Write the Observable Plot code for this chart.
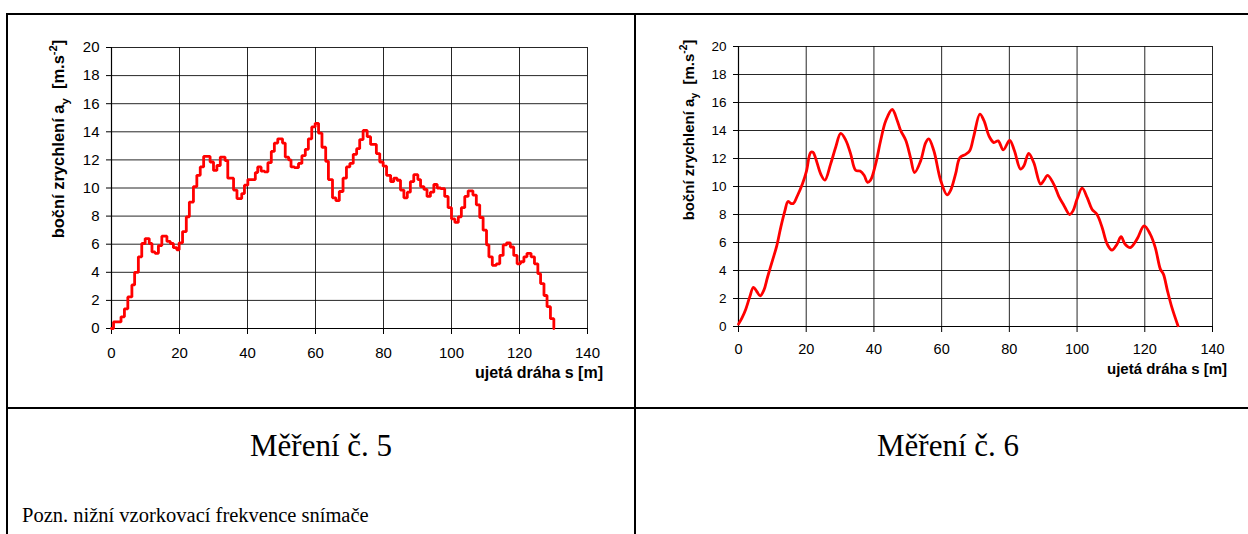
<!DOCTYPE html>
<html><head><meta charset="utf-8">
<script src="https://cdn.jsdelivr.net/npm/d3@7"></script>
<script src="https://cdn.jsdelivr.net/npm/@observablehq/plot@0.6"></script>
<style>
html,body{margin:0;padding:0;background:#fff;width:1248px;height:534px;overflow:hidden;}
#root{position:relative;width:1248px;height:534px;}
.chart{position:absolute;top:0;}
.chart svg{display:block;max-width:none;background:transparent;}
.rule{position:absolute;background:#000;z-index:5;}
.cap{position:absolute;font-family:"Liberation Serif","Times New Roman",serif;color:#000;white-space:nowrap;line-height:1;}
</style></head><body>
<div id="root"></div>
<script>
// Měření č. 5 (step line)
const sStep = [
  0, 0.6, 2.8, 3.8, 4.8, 6.0, 6.8, 7.9, 8.9, 9.9,
  11.1, 11.9, 12.8, 13.8, 14.8, 16.3, 17.3, 18.2, 19.2, 19.9,
  20.9, 22.0, 22.9, 24.1, 25.1, 26.1, 27.1, 29.0, 30.0, 31.0,
  32.0, 33.4, 34.2, 35.9, 36.9, 38.3, 39.1, 40.1, 42.3, 43.0,
  44.0, 45.0, 46.0, 47.0, 47.9, 48.9, 50.3, 51.1, 52.1, 52.8,
  53.8, 55.0, 56.0, 57.0, 57.9, 58.9, 59.9, 60.9, 61.9, 63.0,
  63.8, 65.0, 66.0, 67.0, 68.1, 69.1, 70.1, 71.1, 72.1, 73.0,
  74.0, 75.2, 76.2, 77.9, 78.9, 79.9, 80.9, 82.1, 83.0, 84.0,
  85.0, 86.0, 87.0, 87.9, 88.9, 90.1, 90.9, 91.9, 92.8, 93.8,
  94.8, 95.8, 96.8, 98.0, 99.0, 100.0, 101.0, 102.0, 102.9, 103.9,
  104.9, 106.3, 107.3, 108.3, 109.3, 110.3, 111.0, 112.0, 113.2, 114.2,
  115.2, 116.2, 117.3, 118.3, 119.3, 120.3, 121.3, 122.2, 123.4, 124.4,
  125.4, 126.2, 127.2, 128.1, 129.1, 130.1
];
const aStep = [
  0, 0.47, 0.83, 1.4, 2.25, 3.1, 4.0, 5.1, 6.05, 6.4,
  6.05, 5.45, 5.35, 5.9, 6.57, 6.2, 6.05, 5.75, 5.6, 6.1,
  6.9, 7.95, 9.0, 10.1, 10.9, 11.5, 12.25, 11.85, 11.25, 11.6,
  12.2, 11.95, 10.7, 9.85, 9.25, 9.6, 10.2, 10.6, 11.1, 11.5,
  11.2, 11.15, 11.8, 12.6, 13.2, 13.5, 13.2, 12.2, 12.0, 11.5,
  11.45, 11.75, 12.3, 12.75, 13.5, 14.35, 14.6, 13.9, 12.9, 11.9,
  10.6, 9.3, 9.1, 9.75, 10.7, 11.5, 11.75, 12.4, 12.8, 13.45,
  14.1, 13.65, 13.1, 12.45, 11.85, 11.55, 10.9, 10.45, 10.7, 10.55,
  9.85, 9.3, 9.7, 10.45, 10.95, 10.6, 10.1, 9.9, 9.4, 9.7,
  10.25, 10.0, 9.95, 9.4, 8.6, 7.8, 7.55, 7.95, 8.6, 9.4,
  9.8, 9.5, 8.8, 7.9, 7.0, 5.95, 5.1, 4.5, 4.6, 5.2,
  5.95, 6.1, 5.8, 5.2, 4.6, 4.75, 5.1, 5.35, 5.1, 4.6,
  3.9, 3.2, 2.35, 1.55, 0.7, 0
];
// Měření č. 6 (smooth line)
const sSmooth = [
  0, 1.0, 2.15, 3.3, 4.4, 5.4, 6.4, 7.5, 8.55, 10.0,
  11.3, 12.5, 13.7, 14.6, 15.4, 16.2, 17.4, 18.9, 20.1, 21.3,
  22.0, 22.8, 24.3, 25.5, 27.2, 28.7, 30.2, 31.7, 33.1, 34.6,
  35.9, 37.1, 38.1, 39.0, 40.5, 42.0, 43.5, 45.4, 46.9, 47.9,
  49.4, 50.8, 52.0, 53.8, 55.3, 56.2, 57.7, 59.7, 61.6, 62.6,
  64.1, 65.4, 67.1, 68.3, 69.5, 71.3, 72.5, 74.0, 75.4, 76.7,
  78.2, 80.1, 81.5, 83.3, 84.3, 85.7, 87.2, 89.2, 90.1, 91.3,
  93.1, 94.6, 96.0, 97.8, 98.8, 100.0, 101.5, 103.0, 104.4, 105.9,
  107.4, 108.9, 110.3, 111.8, 113.0, 114.2, 115.7, 117.7, 119.8, 121.6,
  123.1, 124.6, 125.5, 126.7, 128.0, 129.8
];
const aSmooth = [
  0.17, 0.6, 1.24, 2.1, 2.79, 2.5, 2.19, 2.6, 3.5, 4.69,
  5.76, 7.1, 8.26, 8.93, 8.8, 8.79, 9.34, 10.2, 11.12, 12.43,
  12.45, 12.0, 10.88, 10.45, 11.6, 12.8, 13.79, 13.3, 12.35, 11.16,
  11.1, 10.8, 10.3, 10.45, 11.6, 13.3, 14.7, 15.5, 14.7, 14.0,
  13.3, 12.07, 11.0, 11.83, 13.14, 13.4, 12.55, 10.45, 9.4, 9.7,
  10.88, 12.07, 12.3, 12.55, 13.6, 15.17, 14.7, 13.6, 13.14, 13.26,
  12.62, 13.3, 12.55, 11.24, 11.48, 12.36, 11.71, 10.17, 10.4, 10.8,
  10.17, 9.3, 8.7, 8.0, 8.26, 9.1, 9.88, 9.2, 8.38, 8.0,
  7.07, 5.88, 5.45, 5.88, 6.41, 5.88, 5.64, 6.24, 7.19, 6.6,
  5.64, 4.1, 3.74, 2.55, 1.36, 0.05
];
const xTicks = [0, 20, 40, 60, 80, 100, 120, 140];
const yTicks = [0, 2, 4, 6, 8, 10, 12, 14, 16, 18, 20];
const xTitle = "ujetá dráha s [m]";
const yTitleParts = ["boční zrychlení a", "y", "\u00a0\u00a0[m.s", "-2", "]"];
const captions = ["Měření č. 5", "Měření č. 6"];
const noteText = "Pozn. nižní vzorkovací frekvence snímače";

const SANS = '"Liberation Sans", Arial, Helvetica, sans-serif';
const root = document.getElementById("root");

function makeChart(cfg) {
  const data = cfg.s.map((v, i) => ({s: v, a: cfg.a[i]}));
  const svg = Plot.plot({
    width: cfg.width, height: cfg.height,
    marginLeft: cfg.ml, marginRight: cfg.mr, marginTop: cfg.mt, marginBottom: cfg.mb,
    style: {fontFamily: SANS, color: "#000", background: "transparent", overflow: "visible"},
    x: {domain: [0, 140]},
    y: {domain: [0, 20]},
    marks: [
      Plot.gridX(xTicks, {stroke: "#000", strokeOpacity: 0.85, strokeWidth: 1}),
      Plot.gridY(yTicks, {stroke: "#000", strokeOpacity: 0.85, strokeWidth: 1}),
      Plot.axisX(xTicks, {label: null, tickSize: 6, tickPadding: cfg.xpad, fontSize: cfg.fsx, stroke: "#000"}),
      Plot.axisY(yTicks, {label: null, tickSize: 5, tickPadding: 7, fontSize: cfg.fsy, stroke: "#000"}),
      Plot.ruleX([0], {stroke: "#000", strokeWidth: 1.2}),
      Plot.ruleY([0], {stroke: "#000", strokeWidth: 1.2}),
      Plot.line(data, {x: "s", y: "a", curve: cfg.curve, stroke: "#ff0000", strokeWidth: 2.8, strokeLinejoin: cfg.join})
    ]
  });
  const g = d3.select(svg);
  // y title with subscript / superscript
  const fs = cfg.tfs;
  const t = g.append("text")
    .attr("transform", `translate(${cfg.ytx},${cfg.yty}) rotate(-90)`)
    .attr("text-anchor", "middle")
    .attr("font-family", SANS).attr("font-weight", "bold").attr("font-size", fs).attr("fill", "#000");
  t.append("tspan").text(yTitleParts[0]);
  t.append("tspan").attr("font-size", fs * 0.68).attr("dy", fs * 0.3).text(yTitleParts[1]);
  t.append("tspan").attr("dy", -fs * 0.3).text(yTitleParts[2]);
  t.append("tspan").attr("font-size", fs * 0.68).attr("dy", -fs * 0.45).text(yTitleParts[3]);
  t.append("tspan").attr("dy", fs * 0.45).text(yTitleParts[4]);
  // x title
  g.append("text")
    .attr("x", cfg.xtx).attr("y", cfg.xty)
    .attr("text-anchor", "end")
    .attr("font-family", SANS).attr("font-weight", "bold").attr("font-size", cfg.xtfs).attr("fill", "#000")
    .text(xTitle);
  const div = document.createElement("div");
  div.className = "chart";
  div.style.left = cfg.left + "px";
  div.style.width = cfg.width + "px";
  div.appendChild(svg);
  root.appendChild(div);
}

makeChart({s: sStep, a: aStep, curve: "step-after", join: "miter",
  left: 0, width: 620, height: 400, ml: 111, mr: 33, mt: 47, mb: 72,
  fsx: 15, fsy: 15, xpad: 13, tfs: 16.5, ytx: 64, yty: 139, xtx: 603, xty: 378, xtfs: 16});
makeChart({s: sSmooth, a: aSmooth, curve: "catmull-rom", join: "round",
  left: 636, width: 612, height: 400, ml: 102, mr: 36, mt: 46, mb: 74,
  fsx: 14.5, fsy: 13.5, xpad: 11, tfs: 15, ytx: 693.5 - 636, yty: 130, xtx: 1227 - 636, xty: 374, xtfs: 15});

// table rules
function rule(x, y, w, h) {
  const d = document.createElement("div");
  d.className = "rule";
  Object.assign(d.style, {left: x + "px", top: y + "px", width: w + "px", height: h + "px"});
  root.appendChild(d);
}
rule(6, 13, 1242, 2);
rule(6, 13, 2, 521);
rule(634, 13, 2, 521);
rule(6, 407, 1242, 2);

// captions
function cap(text, x, top, size, anchor) {
  const d = document.createElement("div");
  d.className = "cap";
  d.textContent = text;
  d.style.fontSize = size + "px";
  d.style.top = top + "px";
  if (anchor === "middle") { d.style.left = x + "px"; d.style.transform = "translateX(-50%)"; }
  else d.style.left = x + "px";
  root.appendChild(d);
}
cap(captions[0], 321, 430, 31, "middle");
cap(captions[1], 948, 430, 31, "middle");
cap(noteText, 22, 505, 20.5, "start");
</script>
</body></html>
